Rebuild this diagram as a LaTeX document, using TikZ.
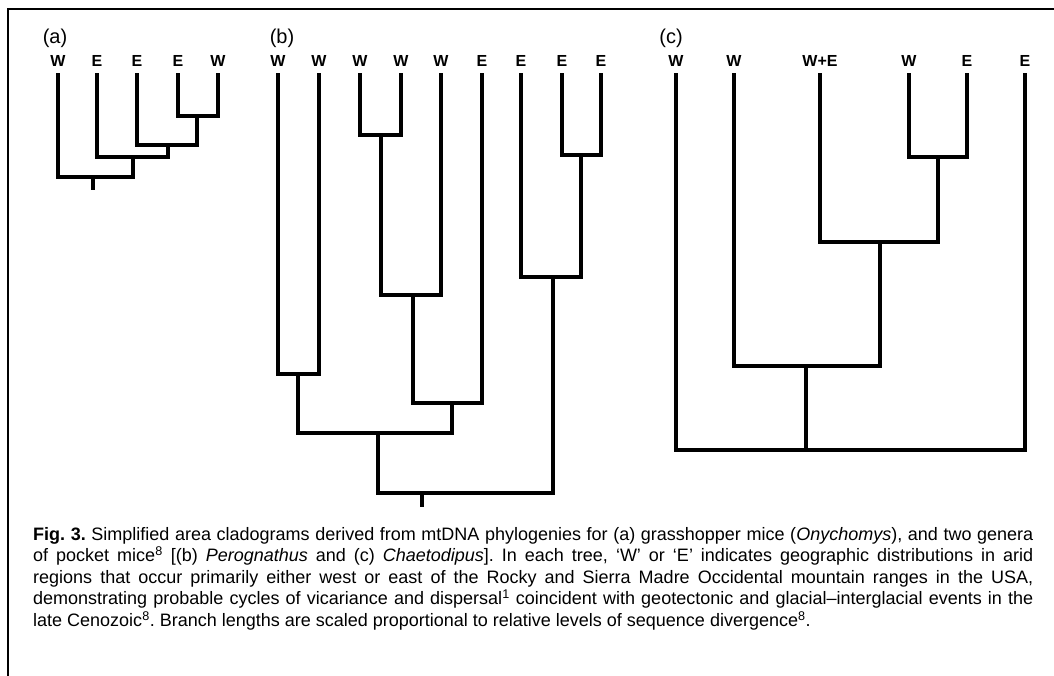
\documentclass[tikz,border=0pt]{standalone}
\usepackage{fontspec}
\setmainfont{Liberation Sans}
\begin{document}
\begin{tikzpicture}[x=1pt,y=-1pt,
  branch/.style={line width=3.1pt,line cap=rect,line join=miter},
  frame/.style={line width=1.8pt},
  leaf/.style={anchor=base,inner sep=0pt,font=\fontsize{16}{18}\selectfont\bfseries},
  panel/.style={anchor=base,inner sep=0pt,font=\fontsize{20}{22}\selectfont},
  caption/.style={anchor=base west,inner sep=0pt,text width=1000pt,align=justify,
    font=\fontsize{18}{21.6}\selectfont}]
\useasboundingbox (0,0) rectangle (1054,676);
\draw[frame] (1054,9) -- (8,9) -- (8,676);

% ---------- tree (a) ----------
\node[panel] (pa) at (55,44) {(a)};
\foreach \n/\x/\t in {a1/58/W,a2/97/E,a3/137/E,a4/178/E,a5/218/W}{
  \node[leaf] (\n) at (\x,67) {\t};
  \coordinate (\n t) at (\x,75);
}
\coordinate (an1) at (197,116);
\coordinate (an2) at (168,145);
\coordinate (an3) at (133,157);
\coordinate (an4) at (93,177);
\coordinate (aroot) at (93,188);
\draw[branch] (a4t) |- (an1) -| (a5t);
\draw[branch] (a3t) |- (an2) -| (an1);
\draw[branch] (a2t) |- (an3) -| (an2);
\draw[branch] (a1t) |- (an4) -| (an3);
\draw[branch] (an4) -- (aroot);

% ---------- tree (b) ----------
\node[panel] (pb) at (282,44) {(b)};
\foreach \n/\x/\t in {b1/278/W,b2/319/W,b3/360/W,b4/401/W,b5/441/W,b6/482/E,b7/521/E,b8/562/E,b9/601/E}{
  \node[leaf] (\n) at (\x,67) {\t};
  \coordinate (\n t) at (\x,75);
}
\coordinate (bm1) at (298,374);
\coordinate (bm2) at (381,135);
\coordinate (bm3) at (413,295);
\coordinate (bm4) at (452,403);
\coordinate (bm5) at (378,433);
\coordinate (bm6) at (581,155);
\coordinate (bm7) at (553,277);
\coordinate (bm8) at (422,493);
\coordinate (broot) at (422,505);
\draw[branch] (b1t) |- (bm1) -| (b2t);
\draw[branch] (b3t) |- (bm2) -| (b4t);
\draw[branch] (bm2) |- (bm3) -| (b5t);
\draw[branch] (bm3) |- (bm4) -| (b6t);
\draw[branch] (bm1) |- (bm5) -| (bm4);
\draw[branch] (b8t) |- (bm6) -| (b9t);
\draw[branch] (b7t) |- (bm7) -| (bm6);
\draw[branch] (bm5) |- (bm8) -| (bm7);
\draw[branch] (bm8) -- (broot);

% ---------- tree (c) ----------
\node[panel] (pc) at (671,44) {(c)};
\foreach \n/\x/\t in {c1/676/W,c2/734/W,c3/820/W+E,c4/909/W,c5/967/E,c6/1025/E}{
  \node[leaf] (\n) at (\x,67) {\t};
  \coordinate (\n t) at (\x,75);
}
\coordinate (ck1) at (938,157);
\coordinate (ck2) at (880,242);
\coordinate (ck3) at (806,366);
\coordinate (ck4) at (806,450);
\draw[branch] (c4t) |- (ck1) -| (c5t);
\draw[branch] (c3t) |- (ck2) -| (ck1);
\draw[branch] (c2t) |- (ck3) -| (ck2);
\draw[branch] (c1t) |- (ck4) -| (c6t);
\draw[branch] (ck3) -- (ck4);

% ---------- caption ----------
\node[caption] (cap) at (33,540) {\hbadness=10000\frenchspacing\textbf{Fig. 3.} Simplified area cladograms derived from mtDNA phylogenies for (a) grasshopper mice (\textit{Onychomys}), and two genera\linebreak
of pocket mice\textsuperscript{8} [(b) \textit{Perognathus} and (c) \textit{Chaetodipus}]. In each tree, ‘W’ or ‘E’ indicates geographic distributions in arid\linebreak
regions that occur primarily either west or east of the Rocky and Sierra Madre Occidental mountain ranges in the USA,\linebreak
demonstrating probable cycles of vicariance and dispersal\textsuperscript{1} coincident with geotectonic and glacial–interglacial events in the\linebreak
late Cenozoic\textsuperscript{8}. Branch lengths are scaled proportional to relative levels of sequence divergence\textsuperscript{8}.};
\end{tikzpicture}
\end{document}
